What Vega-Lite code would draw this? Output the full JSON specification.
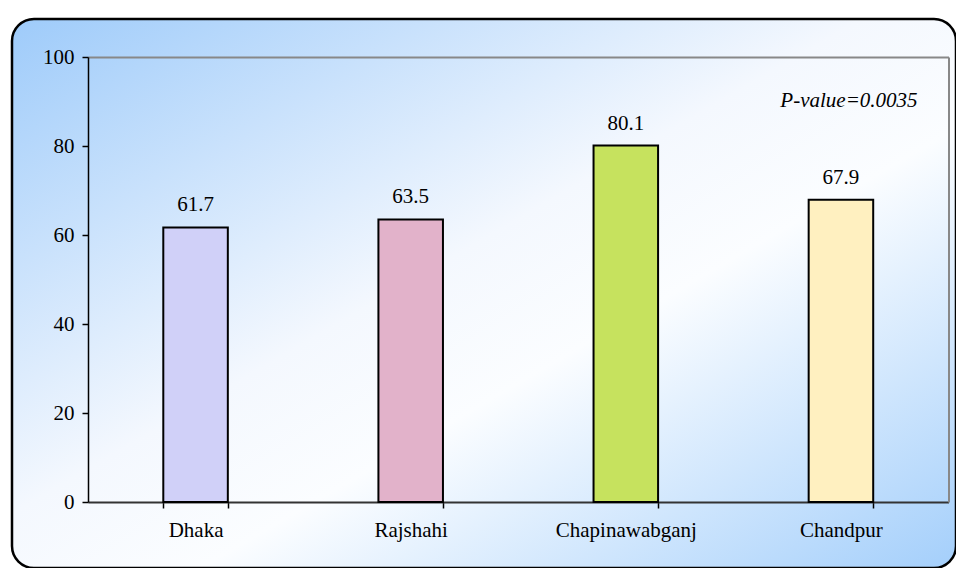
{
  "$schema": "https://vega.github.io/schema/vega-lite/v6.json",
  "width": 944,
  "height": 549,
  "padding": {"left": 12, "top": 19, "right": 0, "bottom": 0},
  "background": "#ffffff",
  "config": {
    "font": "'Liberation Serif', 'Times New Roman', serif",
    "text": {"font": "'Liberation Serif', 'Times New Roman', serif"},
    "axis": {"labelFont": "'Liberation Serif', 'Times New Roman', serif"},
    "view": {
      "fill": {
        "gradient": "linear",
        "x1": 0, "y1": 0, "x2": 1, "y2": 1,
        "stops": [
          {"offset": 0, "color": "#9ecbfa"},
          {"offset": 0.45, "color": "#f4f8fe"},
          {"offset": 0.6, "color": "#fbfdff"},
          {"offset": 1, "color": "#a4cffb"}
        ]
      },
      "stroke": "#000000",
      "strokeWidth": 2.5,
      "cornerRadius": 22
    }
  },
  "datasets": {
    "bars": [
      {"district": "Dhaka", "value": 61.7},
      {"district": "Rajshahi", "value": 63.5},
      {"district": "Chapinawabganj", "value": 80.1},
      {"district": "Chandpur", "value": 67.9}
    ],
    "note": [
      {"district": "Chandpur", "y": 88.8, "label": "P-value=0.0035"}
    ]
  },
  "layer": [
    {
      "data": {"name": "bars"},
      "mark": {"type": "bar", "stroke": "#000000", "strokeWidth": 2},
      "encoding": {
        "x": {
          "field": "district", "type": "nominal", "sort": null,
          "scale": {"domain": ["Dhaka", "Rajshahi", "Chapinawabganj", "Chandpur"], "range": [76, 936.5], "paddingInner": 0.7, "paddingOuter": 0.35},
          "axis": {"orient": "bottom", "offset": -66, "title": null, "tickBand": "extent", "labelAngle": 0, "domainColor": "#333333", "domainWidth": 2, "tickColor": "#000000", "tickSize": 6, "tickWidth": 1.5, "labelFontSize": 21, "labelPadding": 11, "labelColor": "#000000"}
        },
        "y": {
          "field": "value", "type": "quantitative",
          "scale": {"domain": [0, 100], "range": [483, 38], "nice": false},
          "axis": {"orient": "left", "offset": -76, "values": [0, 20, 40, 60, 80, 100], "title": null, "grid": false, "domainColor": "#000000", "domainWidth": 1.5, "tickColor": "#000000", "tickSize": 6, "tickWidth": 1.5, "labelFontSize": 21, "labelPadding": 8, "labelColor": "#000000"}
        },
        "color": {
          "field": "district", "type": "nominal",
          "scale": {"domain": ["Dhaka", "Rajshahi", "Chapinawabganj", "Chandpur"], "range": ["#d0d0f8", "#e2b2ca", "#c6e25e", "#fff0c0"]},
          "legend": null
        }
      }
    },
    {
      "data": {"name": "bars"},
      "mark": {"type": "text", "dy": -16, "baseline": "alphabetic", "fontSize": 21, "color": "#000000"},
      "encoding": {
        "x": {
          "field": "district", "type": "nominal", "sort": null,
          "axis": {"orient": "top", "offset": -38, "labels": false, "ticks": false, "title": null, "domainColor": "#888888", "domainWidth": 2}
        },
        "y": {
          "field": "value", "type": "quantitative",
          "axis": {"orient": "right", "offset": -7.5, "labels": false, "ticks": false, "title": null, "grid": false, "domainColor": "#888888", "domainWidth": 2}
        },
        "text": {"field": "value", "type": "quantitative", "format": ".1f"}
      }
    },
    {
      "data": {"name": "note"},
      "mark": {"type": "text", "baseline": "alphabetic", "fontSize": 21, "fontStyle": "italic", "dx": 8, "color": "#000000"},
      "encoding": {
        "x": {"field": "district", "type": "nominal", "axis": null},
        "y": {"field": "y", "type": "quantitative", "axis": null},
        "text": {"field": "label", "type": "nominal"}
      }
    }
  ],
  "resolve": {"axis": {"x": "independent", "y": "independent"}}
}
